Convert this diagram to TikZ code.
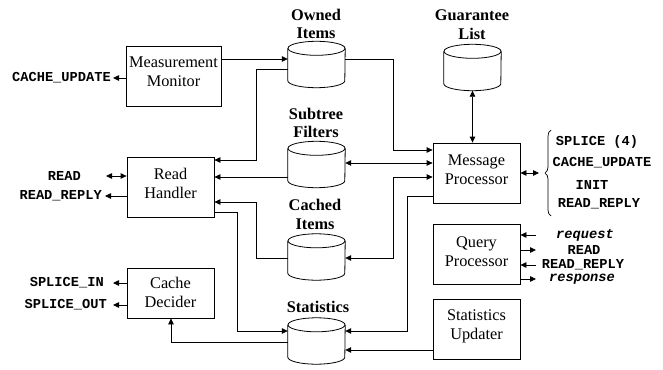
\documentclass[tikz,border=0pt]{standalone}
\usepackage{fontspec}
\setmainfont{Liberation Serif}
\setmonofont{Liberation Mono}
\usetikzlibrary{arrows.meta,decorations.pathreplacing,calc}
\begin{document}
\begin{tikzpicture}[x=1pt,y=-1pt,
  box/.style={draw, line width=0.8pt, minimum width=87pt, minimum height=60pt, inner sep=0pt},
  boxtext/.style={align=center, inner sep=0pt, font=\fontsize{16.3}{19}\selectfont},
  db/.style={minimum width=57pt, minimum height=46pt, inner sep=0pt},
  dblabel/.style={font=\fontsize{16.3}{18.5}\selectfont\bfseries, align=center, inner sep=0pt},
  msg/.style={font=\fontsize{13.7}{15}\selectfont\ttfamily\bfseries, inner sep=0pt},
  imsg/.style={font=\fontsize{13.7}{15}\selectfont\ttfamily\bfseries\itshape, inner sep=0pt},
  conn/.style={line width=0.8pt},
  tip/.style={-{Triangle[length=6pt,width=5.5pt]}},
  dtip/.style={{Triangle[length=6pt,width=5.5pt]}-{Triangle[length=6pt,width=5.5pt]}}
]
\useasboundingbox[fill=white] (0,0) rectangle (663,369);

% boxes
\node[box, minimum width=95pt] (mm) at (173.5,76) {};
\node[box] (rh) at (170.5,187) {};
\node[box, minimum height=50pt] (cd) at (170.5,293) {};
\node[box] (mp) at (476.5,173) {};
\node[box] (qp) at (476.5,254) {};
\node[box] (su) at (476.5,329) {};
\node[boxtext] (mmt) at ($(mm.center)+(0,-4)$) {Measurement\\Monitor};
\node[boxtext] (rht) at ($(rh.center)+(0,-4)$) {Read\\Handler};
\node[boxtext] (cdt) at ($(cd.center)+(0,-1)$) {Cache\\Decider};
\node[boxtext] (mpt) at ($(mp.center)+(0,-3)$) {Message\\Processor};
\node[boxtext] (qpt) at ($(qp.center)+(0,-2.5)$) {Query\\Processor};
\node[boxtext] (sut) at ($(su.center)+(0,-3)$) {Statistics\\Updater};

% databases
\node[db] (own) at (316.5,64.5) {};
\node[db] (sub) at (316.5,164.5) {};
\node[db] (cach) at (316.5,257) {};
\node[db] (stat) at (316.5,341) {};
\node[db] (guar) at (472.5,67.5) {};
\foreach \n in {own,sub,cach,stat,guar}{
  \draw[conn] ($(\n.north west)+(0,7)$) -- ($(\n.south west)+(0,-7)$)
     arc[start angle=180, end angle=360, x radius=28.5pt, y radius=7pt]
     -- ($(\n.north east)+(0,7)$);
  \draw[conn] ($(\n.north)+(0,7)$) ellipse[x radius=28.5pt, y radius=7pt];
}
\node[dblabel] (lown) at (316,24) {Owned\\Items};
\node[dblabel] (lsub) at (316,123) {Subtree\\Filters};
\node[dblabel] (lcach) at (315,214.5) {Cached\\Items};
\node[dblabel] (lstat) at (318,307) {Statistics};
\node[dblabel] (lguar) at (472,24.5) {Guarantee\\List};

% internal connectors
\draw[conn,tip] (mm.east |- 0,59) -- (own.west |- 0,59);
\draw[conn,tip] (own.east |- 0,59) -| (393,150) -- (mp.west |- 0,150);
\draw[conn,tip] (own.west |- 0,69) -| (256,160) -- (rh.east |- 0,160);
\draw[conn,tip] (sub.west |- 0,177) -- (rh.east |- 0,177);
\draw[conn,dtip] (sub.east |- 0,163) -- (mp.west |- 0,163);
\draw[conn,tip] (cach.west |- 0,258) -| (256,202) -- (rh.east |- 0,202);
\draw[conn,dtip] (mp.west |- 0,177) -| (393,258) -- (cach.east |- 0,258);
\draw[conn,tip] (mp.west |- 0,196) -| (407,331) -- (stat.east |- 0,331);
\draw[conn,tip] (su.west |- 0,350) -- (stat.east |- 0,350);
\draw[conn,tip] (rh.east |- 0,212) -| (237,331) -- (stat.west |- 0,331);
\draw[conn,tip] (stat.west |- 0,342) -| (cd.south -| 171,0);
\draw[conn,dtip] (guar.south) -- (mp.north -| guar.south);

% left messages
\node[msg, anchor=east] (cu) at (111,78) {CACHE\_UPDATE};
\draw[conn,tip] (mm.west |- cu) -- ([xshift=2pt]cu.east);
\node[msg, anchor=east] (rd) at (81,176) {READ};
\draw[conn,dtip] ([xshift=25pt]rd.east) -- (rh.west |- rd);
\node[msg, anchor=east] (rr) at (102,196) {READ\_REPLY};
\draw[conn,tip] (rh.west |- rr) -- ([xshift=3pt]rr.east);
\node[msg, anchor=east] (si) at (104,283) {SPLICE\_IN};
\draw[conn,tip] (cd.west |- si) -- ([xshift=9pt]si.east);
\node[msg, anchor=east] (so) at (107,305) {SPLICE\_OUT};
\draw[conn,tip] (cd.west |- so) -- ([xshift=6pt]so.east);

% message processor brace
\coordinate (bt) at (539,173);
\draw[conn,dtip] (mp.east) -- (bt);
\draw[line width=0.7pt, decorate, decoration={brace, amplitude=6pt}] (551,216) -- (551,130);
\node[msg] (m1) at (597,142) {SPLICE (4)};
\node[msg] (m2) at (602,163) {CACHE\_UPDATE};
\node[msg] (m3) at (592,185) {INIT};
\node[msg] (m4) at (599,204) {READ\_REPLY};

% query processor messages
\node[imsg] (q1) at (585,235) {request};
\node[msg] (q2) at (584,250) {READ};
\node[msg] (q3) at (583,265) {READ\_REPLY};
\node[imsg] (q4) at (582,279) {response};
\coordinate (c1) at (536,235);
\coordinate (c2) at (536,250);
\coordinate (c3) at (536,265);
\coordinate (c4) at (536,279);
\draw[conn,tip] (c1) -- (qp.east |- c1);
\draw[conn,tip] (qp.east |- c2) -- (c2);
\draw[conn,tip] (c3) -- (qp.east |- c3);
\draw[conn,tip] (qp.east |- c4) -- (c4);
\end{tikzpicture}
\end{document}
